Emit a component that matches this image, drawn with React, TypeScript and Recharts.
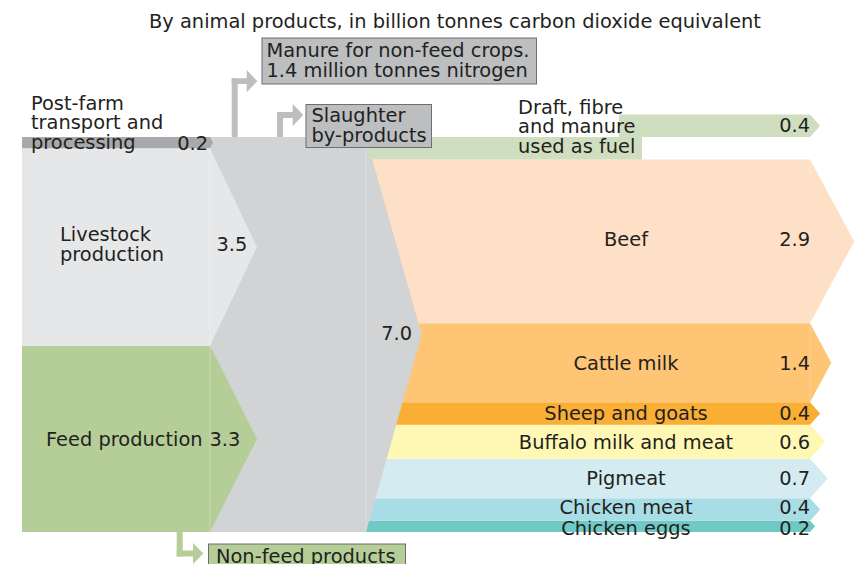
import React from 'react'
import { BarChart, Bar, XAxis, YAxis } from 'recharts'

const title = 'By animal products, in billion tonnes carbon dioxide equivalent'

// sources, bottom to top
const sourceKeys = ['feed', 'livestock', 'transport']
const sourceLabels = [['Feed production'], ['Livestock', 'production'], ['Post-farm', 'transport and', 'processing']]
const sourceValues = [3.3, 3.5, 0.2]

const totalKey = 'total'
const totalValue = 7.0

// products, bottom to top
const productKeys = ['eggs', 'chickenMeat', 'pigmeat', 'buffalo', 'sheepGoats', 'cattleMilk', 'beef', 'draft']
const productLabels = [
  ['Chicken eggs'],
  ['Chicken meat'],
  ['Pigmeat'],
  ['Buffalo milk and meat'],
  ['Sheep and goats'],
  ['Cattle milk'],
  ['Beef'],
  ['Draft, fibre', 'and manure', 'used as fuel'],
]
const productValues = [0.2, 0.4, 0.7, 0.6, 0.4, 1.4, 2.9, 0.4]

const calloutLabels = [
  ['Manure for non-feed crops.', '1.4 million tonnes nitrogen'],
  ['Slaughter', 'by-products'],
  ['Non-feed products'],
]

const colors: Record<string, string> = {
  feed: '#b5cd97',
  livestock: '#e6e7e8',
  transport: '#a7a9ac',
  total: '#d1d3d4',
  eggs: '#6fc9c4',
  chickenMeat: '#a9dde6',
  pigmeat: '#d4ecf1',
  buffalo: '#fff8b4',
  sheepGoats: '#fbae34',
  cattleMilk: '#fec575',
  beef: '#fee0c6',
  draft: '#cedebe',
}

// small vertical nudges so labels sit where the original puts them
const labelShift: Record<string, number> = { beef: -2.5, chickenMeat: -2, eggs: 1.5 }

const FONT = '"DejaVu Sans", Verdana, sans-serif'
const INK = '#231f20'
const FS = 19.4

const allKeys = [...sourceKeys, totalKey, ...productKeys]
function makeRow(col: string, keys: string[], values: number[]) {
  const row: Record<string, any> = { col }
  allKeys.forEach((k) => (row[k] = 0))
  keys.forEach((k, i) => (row[k] = values[i]))
  return row
}
const rows = [
  makeRow('sources', sourceKeys, sourceValues),
  makeRow('total', [totalKey], [totalValue]),
  makeRow('products', productKeys, productValues),
]

const fmt = (v: number) => v.toFixed(1)

function T({ x, y, children, anchor = 'start' }: any) {
  return (
    <text x={x} y={y} dy="0.36em" textAnchor={anchor} fontFamily={FONT} fontSize={FS} fill={INK}>
      {children}
    </text>
  )
}

function arrow(x0: number, x1: number, tip: number, y: number, h: number) {
  return `${x0},${y} ${x1},${y} ${x1 + tip},${y + h / 2} ${x1},${y + h} ${x0},${y + h}`
}

function Block(props: any) {
  const { y, height, segKey } = props
  if (!height || height <= 0) return <g />
  const h = height
  const c = y + h / 2
  const fill = colors[segKey]

  const si = sourceKeys.indexOf(segKey)
  if (si >= 0) {
    const value = sourceValues[si]
    const lines = sourceLabels[si]
    if (segKey === 'transport') {
      return (
        <g>
          <polygon points={arrow(22, 210, 3, y, h)} fill={fill} />
          {lines.map((l, i) => <T key={i} x={31} y={c - 40 + i * 19.7}>{l}</T>)}
          <T x={208} y={c} anchor="end">{fmt(value)}</T>
        </g>
      )
    }
    const two = lines.length > 1
    return (
      <g>
        <polygon points={arrow(22, 210, 47, y, h)} fill={fill} />
        <line x1={210} x2={210} y1={y} y2={y + h} stroke="#ffffff" strokeOpacity={0.25} />
        {two
          ? lines.map((l, i) => <T key={i} x={60} y={c - 13.4 + i * 20}>{l}</T>)
          : <T x={46} y={c}>{lines[0]}</T>}
        <T x={two ? 216.5 : 209.5} y={two ? c - 3.5 : c}>{fmt(value)}</T>
      </g>
    )
  }

  if (segKey === totalKey) {
    return (
      <g>
        <polygon points={arrow(210, 366, 55.7, y, h)} fill={fill} />
        <line x1={366} x2={366} y1={y} y2={y + h} stroke="#ffffff" strokeOpacity={0.25} />
        <T x={412} y={c - 1.5} anchor="end">{fmt(totalValue)}</T>
      </g>
    )
  }

  const pi = productKeys.indexOf(segKey)
  const value = productValues[pi]
  const lines = productLabels[pi]
  if (segKey === 'draft') {
    const pts = `368,${y} 619,${y} 619,${y - h} 810,${y - h} ${810 + h * 0.45},${y - h / 2} 810,${y} 642,${y} 642,${y + h} 368,${y + h}`
    return (
      <g>
        <polygon points={pts} fill={fill} />
        {lines.map((l, i) => <T key={i} x={518} y={c - 41.6 + i * 19.7}>{l}</T>)}
        <T x={810} y={c - h - 1} anchor="end">{fmt(value)}</T>
      </g>
    )
  }
  const big = h > 60
  const ly = c + (labelShift[segKey] ?? 0)
  return (
    <g>
      <polygon points={arrow(366, 810, h * (big ? 0.27 : 0.45), y, h)} fill={fill} />
      {big && <line x1={810} x2={810} y1={y} y2={y + h} stroke="#ffffff" strokeOpacity={0.2} />}
      <T x={626} y={ly} anchor="middle">{lines[0]}</T>
      <T x={810} y={ly} anchor="end">{fmt(value)}</T>
    </g>
  )
}

const shapeFor = (k: string) => (p: any) => <Block {...p} segKey={k} />

// render order: products under the total arrowhead, sources over the total, draft last
const renderOrder = [...productKeys.slice(0, 7), totalKey, ...sourceKeys, 'draft']

function Callouts() {
  const grey = '#bcbec0'
  const green = '#b5cd97'
  const border = '#6d6e71'
  return (
    <svg width={854} height={564} style={{ position: 'absolute', left: 0, top: 0, pointerEvents: 'none' }}>
      <text x={455} y={21.5} dy="0.36em" textAnchor="middle" fontFamily={FONT} fontSize={FS} fill={INK}>
        {title}
      </text>

      {/* manure */}
      <rect x={231.7} y={78.3} width={6} height={58.7} fill={grey} />
      <rect x={231.7} y={78.3} width={16} height={5.7} fill={grey} />
      <polygon points="246.7,70 257.3,81.2 246.7,92.3" fill={grey} />
      <rect x={262} y={38} width={274.5} height={46} fill={grey} stroke={border} strokeWidth={1} />
      {calloutLabels[0].map((l, i) => <T key={i} x={266.5} y={50.5 + i * 20}>{l}</T>)}

      {/* slaughter */}
      <rect x={277} y={112} width={6} height={25} fill={grey} />
      <rect x={277} y={112} width={16} height={6} fill={grey} />
      <polygon points="292.7,104 303.3,115 292.7,126" fill={grey} />
      <rect x={306} y={104.5} width={125.5} height={43} fill={grey} stroke={border} strokeWidth={1} />
      {calloutLabels[1].map((l, i) => <T key={i} x={311.5} y={115.5 + i * 20}>{l}</T>)}

      {/* non-feed */}
      <rect x={176.7} y={532} width={6} height={24.5} fill={green} />
      <rect x={176.7} y={550.5} width={17} height={6} fill={green} />
      <polygon points="193,543 203.3,553.5 193,564" fill={green} />
      <rect x={208.5} y={544} width={197} height={26} fill={green} stroke={border} strokeWidth={1} />
      <T x={216} y={556}>{calloutLabels[2][0]}</T>
    </svg>
  )
}

export default function App() {
  return (
    <div style={{ position: 'absolute', left: 0, top: 0, width: 854, height: 564, background: '#fff', overflow: 'hidden' }}>
      <BarChart
        width={854}
        height={564}
        data={rows}
        margin={{ top: 137, right: 0, bottom: 32, left: 0 }}
        barCategoryGap={0}
      >
        <XAxis dataKey="col" hide />
        <YAxis type="number" domain={[0, 7]} hide />
        {renderOrder.map((k) => (
          <Bar key={k} dataKey={k} stackId="flow" shape={shapeFor(k)} isAnimationActive={false} />
        ))}
      </BarChart>
      <Callouts />
    </div>
  )
}
